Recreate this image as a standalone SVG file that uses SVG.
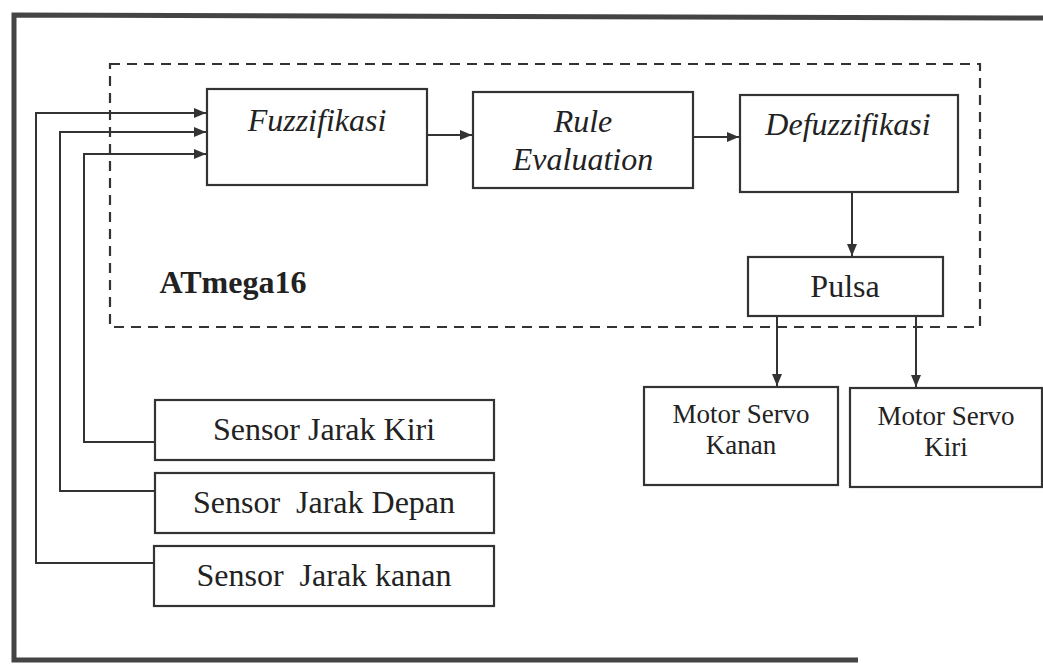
<svg xmlns="http://www.w3.org/2000/svg" width="1043" height="664" viewBox="0 0 1043 664">
<defs>
<marker id="ah" viewBox="0 0 12 10" refX="12" refY="5" markerWidth="12" markerHeight="10" markerUnits="userSpaceOnUse" orient="auto">
<path d="M0,0 L12,5 L0,10 Z" fill="#333"/>
</marker>
<style>
.box{fill:#fff;stroke:#333;stroke-width:2.2}
.conn{fill:none;stroke:#333;stroke-width:2}
text{font-family:'Liberation Serif','DejaVu Serif',serif;fill:#222;text-anchor:middle}
.it{font-style:italic;font-size:32px}
.rg{font-size:32px}
.sm{font-size:27px}
.bd{font-weight:bold;font-size:32px}
</style>
</defs>
<rect width="1043" height="664" fill="#fff"/>
<g id="frame" fill="none" stroke="#444" stroke-width="5">
<polyline points="1043,18 14,15 14,660 858,660"/>
</g>
<g id="atmega16">
<rect x="110" y="64" width="870" height="263" fill="none" stroke="#333" stroke-width="2.2" stroke-dasharray="10,7"/>
<text class="bd" x="233" y="293" font-family="Liberation Serif, serif">ATmega16</text>
</g>
<g id="fuzzifikasi">
<rect class="box" x="207" y="89" width="220" height="96"/>
<text class="it" x="317" y="131" font-family="Liberation Serif, serif">Fuzzifikasi</text>
</g>
<g id="rule-evaluation">
<rect class="box" x="473" y="92" width="220" height="96"/>
<text class="it" x="583" y="132" font-family="Liberation Serif, serif">Rule</text>
<text class="it" x="583" y="170" font-family="Liberation Serif, serif">Evaluation</text>
</g>
<g id="defuzzifikasi">
<rect class="box" x="740" y="95" width="218" height="97"/>
<text class="it" x="848" y="135" font-family="Liberation Serif, serif">Defuzzifikasi</text>
</g>
<g id="pulsa">
<rect class="box" x="748" y="257" width="195" height="59"/>
<text class="rg" x="845" y="297" font-family="Liberation Serif, serif">Pulsa</text>
</g>
<g id="motor-servo-kanan">
<rect class="box" x="644" y="387" width="194" height="98"/>
<text class="sm" x="741" y="423" font-family="Liberation Serif, serif">Motor Servo</text>
<text class="sm" x="741" y="454" font-family="Liberation Serif, serif">Kanan</text>
</g>
<g id="motor-servo-kiri">
<rect class="box" x="850" y="388" width="192" height="99"/>
<text class="sm" x="946" y="425" font-family="Liberation Serif, serif">Motor Servo</text>
<text class="sm" x="946" y="456" font-family="Liberation Serif, serif">Kiri</text>
</g>
<g id="sensor-jarak-kiri">
<rect class="box" x="155" y="400" width="339" height="60"/>
<text class="rg" x="324" y="440" font-family="Liberation Serif, serif">Sensor Jarak Kiri</text>
</g>
<g id="sensor-jarak-depan">
<rect class="box" x="155" y="473" width="339" height="60"/>
<text class="rg" x="324" y="513" font-family="Liberation Serif, serif" xml:space="preserve">Sensor  Jarak Depan</text>
</g>
<g id="sensor-jarak-kanan">
<rect class="box" x="154" y="546" width="340" height="60"/>
<text class="rg" x="324" y="586" font-family="Liberation Serif, serif" xml:space="preserve">Sensor  Jarak kanan</text>
</g>
<g id="connectors">
<polyline class="conn" points="154,563 36,563 36,113 206,113" marker-end="url(#ah)"/>
<polyline class="conn" points="155,491 60,491 60,132 206,132" marker-end="url(#ah)"/>
<polyline class="conn" points="155,442 84,442 84,154 206,154" marker-end="url(#ah)"/>
<line class="conn" x1="427" y1="135" x2="472" y2="135" marker-end="url(#ah)"/>
<line class="conn" x1="693" y1="137" x2="739" y2="137" marker-end="url(#ah)"/>
<line class="conn" x1="852" y1="192" x2="852" y2="256" marker-end="url(#ah)"/>
<line class="conn" x1="777" y1="316" x2="777" y2="386" marker-end="url(#ah)"/>
<line class="conn" x1="916" y1="316" x2="916" y2="387" marker-end="url(#ah)"/>
</g>
</svg>
